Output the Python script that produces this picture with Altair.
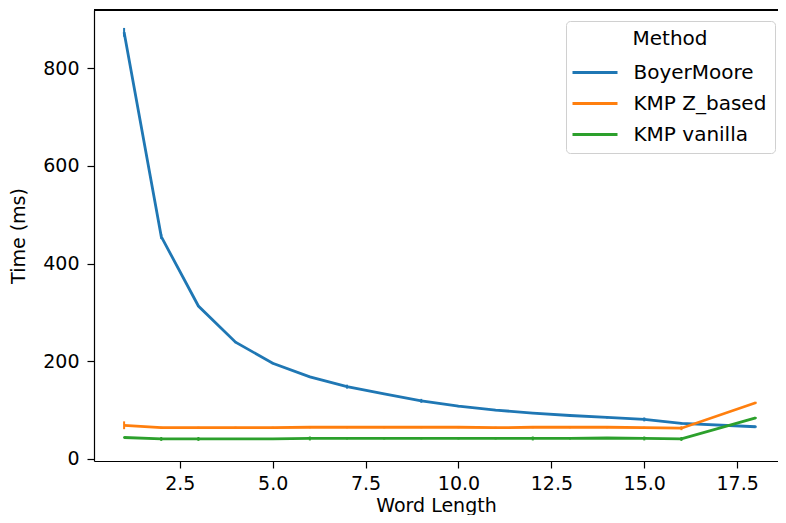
import altair as alt
import pandas as pd

word_length = [1, 2, 3, 4, 5, 6, 7, 8, 9, 10, 11, 12, 13, 14, 15, 16, 18]
methods = ["BoyerMoore", "KMP Z_based", "KMP vanilla"]
colors = ["#1f77b4", "#ff7f0e", "#2ca02c"]

boyer_moore = [873, 455, 313, 239, 196, 168, 148, 133, 119, 108, 100, 94, 89, 85, 81, 73, 66]
kmp_z_based = [69, 64, 64, 64, 64, 65, 65, 65, 65, 65, 64, 65, 65, 65, 64, 63, 115]
kmp_vanilla = [44, 41, 41, 41, 41, 42, 42, 42, 42, 42, 42, 42, 42, 43, 42, 41, 84]

# half-width of the small error bars
boyer_moore_err = [9, 5, 2, 2, 2, 2, 4, 2, 4, 2, 2, 2, 2, 2, 4, 2, 2]
kmp_z_based_err = [8, 2, 2, 2, 2, 2, 2, 2, 2, 2, 2, 2, 2, 2, 2, 4, 2]
kmp_vanilla_err = [2, 4, 4, 2, 2, 4, 2, 2, 2, 2, 2, 4, 2, 2, 4, 4, 2]

x_ticks = [2.5, 5.0, 7.5, 10.0, 12.5, 15.0, 17.5]
y_ticks = [0, 200, 400, 600, 800]

rows = []
for m, vals, errs in zip(methods,
                         [boyer_moore, kmp_z_based, kmp_vanilla],
                         [boyer_moore_err, kmp_z_based_err, kmp_vanilla_err]):
    for x, v, e in zip(word_length, vals, errs):
        rows.append({"Word Length": x, "Time (ms)": v, "Method": m,
                     "lo": v - e, "hi": v + e})
df = pd.DataFrame(rows)

W, H = 684, 451
xscale = alt.Scale(domain=[0.19, 18.6], nice=False, zero=False)
yscale = alt.Scale(domain=[-4.1, 918.7], nice=False, zero=False)
x_axis = alt.Axis(values=x_ticks, format=".1f", title="Word Length",
                  labelPadding=6, titlePadding=3)
y_axis = alt.Axis(values=y_ticks, format="d", title="Time (ms)",
                  labelPadding=8, titlePadding=14)

color = alt.Color(
    "Method:N",
    scale=alt.Scale(domain=methods, range=colors),
    legend=alt.Legend(
        orient="none", legendX=472, legendY=11,
        title="Method", titleAnchor="middle", titleFontSize=20,
        titleFontWeight="normal", titleColor="black", titleFont="DejaVu Sans",
        labelFontSize=20, labelColor="black", labelFont="DejaVu Sans",
        symbolType="M-1.154,0H1.154", symbolSize=1521, symbolStrokeWidth=3,
        labelOffset=17.5, padding=8, rowPadding=0, titlePadding=2.5,
        strokeColor="#d0d0d0", cornerRadius=4, fillColor="white",
    ),
)

lines = alt.Chart(df).mark_line(strokeWidth=2.8).encode(
    x=alt.X("Word Length:Q", scale=xscale, axis=x_axis),
    y=alt.Y("Time (ms):Q", scale=yscale, axis=y_axis),
    color=color,
)

bars = alt.Chart(df).mark_rule(strokeWidth=2).encode(
    x=alt.X("Word Length:Q", scale=xscale, axis=x_axis),
    y=alt.Y("lo:Q", scale=yscale, axis=y_axis),
    y2="hi:Q",
    color=color,
)

# top frame line of the plot area
top_spine = alt.Chart(df).mark_rule(color="black", strokeWidth=1.2).encode(
    x=alt.value(0), x2=alt.value(W), y=alt.value(0)
)

chart = alt.layer(lines, bars, top_spine).properties(
    width=W, height=H,
    padding={"left": 86, "top": 2, "right": 0, "bottom": 54},
    autosize="none",
).configure_view(stroke=None).configure_axis(
    grid=False, domainColor="black", domainWidth=1.2,
    tickColor="black", tickWidth=1.2, tickSize=7,
    labelFontSize=19, titleFontSize=19, titleFontWeight="normal",
    labelColor="black", titleColor="black",
    labelFont="DejaVu Sans", titleFont="DejaVu Sans",
)

chart.save("out.html", embed_options={"renderer": "svg", "actions": False})
